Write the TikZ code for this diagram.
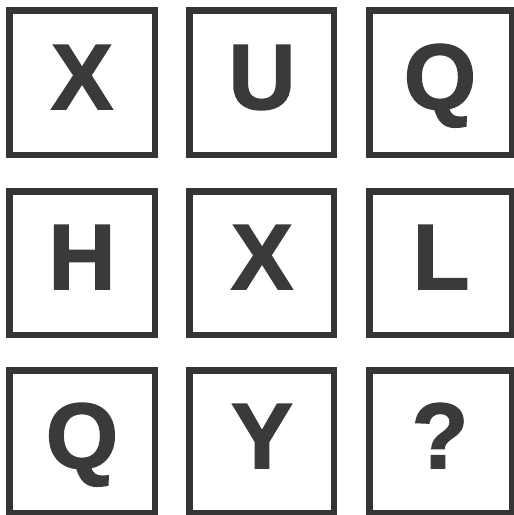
\documentclass[tikz,border=0pt]{standalone}
\usepackage{fontspec}
\setmainfont{Liberation Sans}
\newfontfamily\heavy[FakeBold=1.6]{Liberation Sans Bold}
\definecolor{ink}{HTML}{353535}
\definecolor{glyph}{HTML}{3A3A3A}
\begin{document}
\begin{tikzpicture}[x=1pt,y=-1pt,
  cell/.style={draw=ink,line width=6.5pt,fill=white},
  letter/.style={anchor=base,inner sep=0pt,text=glyph,font=\fontsize{93}{93}\selectfont\heavy}]
\useasboundingbox[fill=white] (0,0) rectangle (514,515);
% columns outer: [6,158] [186,337] [366,514]; rows outer: [7,158] [188,338] [367,515]
\def\lw{3.25}
\foreach \r/\ya/\yb in {1/7/158,2/188/338,3/367/516}{
  \foreach \c/\xa/\xb in {1/6/158,2/186/337,3/366/515}{
    \draw[cell] (\xa+\lw,\ya+\lw) rectangle (\xb-\lw,\yb-\lw);
  }
}
\node[letter] (l11) at (82,109) {X};
\node[letter] (l12) at (262,109) {U};
\node[letter] (l13) at (440,109) {Q};
\node[letter] (l21) at (82,289) {H};
\node[letter] (l22) at (262,289) {X};
\node[letter] (l23) at (441,289) {L};
\node[letter] (l31) at (82,468) {Q};
\node[letter] (l32) at (262,468) {Y};
\node[letter] (l33) at (440,468) {?};
\end{tikzpicture}
\end{document}
